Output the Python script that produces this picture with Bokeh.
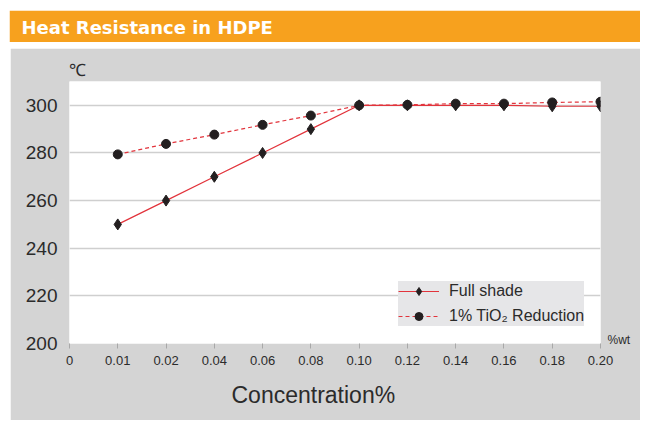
from bokeh.plotting import figure
from bokeh.layouts import column
from bokeh.models import (Range1d, FixedTicker, Legend, LegendItem, Title, LinearAxis)
from bokeh.embed import file_html
from bokeh.resources import INLINE

# ---- data ----
categories = ["0", "0.01", "0.02", "0.04", "0.06", "0.08", "0.10",
              "0.12", "0.14", "0.16", "0.18", "0.20"]
conc = ["0.01", "0.02", "0.04", "0.06", "0.08", "0.10",
        "0.12", "0.14", "0.16", "0.18", "0.20"]
full_shade = [250, 260, 270, 280, 290, 300, 300, 300, 300, 299.6, 299.6]
tio2_reduction = [279.4, 283.8, 287.7, 291.8, 295.7, 300, 300.2, 300.7, 300.7, 301.2, 301.5]
y_ticks = [200, 220, 240, 260, 280, 300]

title_text = "Heat Resistance in HDPE"
y_unit = "\u2103"
x_unit = "%wt"
x_title = "Concentration%"
series_names = ["Full shade", "1% TiO\u2082 Reduction"]

ORANGE = "#f7a11e"
PANEL = "#d4d4d4"
RED = "#e2343c"
MARK = "#231f20"
TXT = "#2b2b2b"

# ---- header bar ----
header = figure(width=631, height=32, x_range=Range1d(0, 1), y_range=Range1d(0, 1),
                output_backend="svg", toolbar_location=None, min_border=0,
                min_border_top=31, margin=(10, 0, 0, 9))
header.axis.visible = False
header.grid.visible = False
header.outline_line_color = None
header.background_fill_color = ORANGE
header.border_fill_color = ORANGE
header.title.text = title_text
header.title.align = "left"
header.title.offset = -47
header.title.standoff = 9
header.title.text_color = "white"
header.title.text_font = "DejaVu Sans"
header.title.text_font_style = "bold"
header.title.text_font_size = "18px"

# ---- main chart ----
x_pos = [categories.index(c) for c in conc]

p = figure(width=630, height=372, x_range=Range1d(0, len(categories) - 1),
           y_range=Range1d(200, 310), output_backend="svg", toolbar_location=None,
           min_border_left=59, min_border_right=40, min_border_top=33,
           min_border_bottom=77, margin=(6, 0, 0, 10))
p.background_fill_color = "white"
p.border_fill_color = PANEL
p.outline_line_color = None

p.xgrid.visible = False
p.ygrid.grid_line_color = "#cfcfcf"
p.ygrid.grid_line_width = 1.5
p.ygrid.ticker = FixedTicker(ticks=y_ticks)

p.xaxis.ticker = FixedTicker(ticks=list(range(len(categories))))
p.xaxis.major_label_overrides = {i: c for i, c in enumerate(categories)}
p.xaxis.axis_line_color = None
p.xaxis.major_tick_in = 0
p.xaxis.major_tick_out = 5
p.xaxis.major_tick_line_color = "#a8a8a8"
p.xaxis.minor_tick_line_color = None
p.xaxis.major_label_text_font = "Liberation Sans"
p.xaxis.major_label_text_font_size = "13px"
p.xaxis.major_label_text_color = TXT
p.xaxis.major_label_standoff = 7

p.yaxis.ticker = FixedTicker(ticks=y_ticks)
p.yaxis.axis_line_color = None
p.yaxis.major_tick_line_color = None
p.yaxis.minor_tick_line_color = None
p.yaxis.major_label_text_font = "Liberation Sans"
p.yaxis.major_label_text_font_size = "19px"
p.yaxis.major_label_text_color = TXT
p.yaxis.major_label_standoff = 6

# unit label "%wt" at the right end of the x axis
unit_axis = LinearAxis(ticker=FixedTicker(ticks=[201.5]),
                       major_label_overrides={201.5: x_unit})
unit_axis.axis_line_color = None
unit_axis.major_tick_line_color = None
unit_axis.minor_tick_line_color = None
unit_axis.major_label_standoff = 1
unit_axis.major_label_text_font = "Liberation Sans"
unit_axis.major_label_text_font_size = "12px"
unit_axis.major_label_text_color = TXT
p.add_layout(unit_axis, "right")

l1 = p.line(x_pos, full_shade, line_color=RED, line_width=1.2)
s1 = p.scatter(x_pos, full_shade, marker="diamond", size=11,
               fill_color=MARK, line_color=MARK)
l2 = p.line(x_pos, tio2_reduction, line_color=RED, line_width=1.2, line_dash="4 3")
s2 = p.scatter(x_pos, tio2_reduction, marker="circle", size=9, fill_color=MARK, line_color=MARK)

legend = Legend(items=[LegendItem(label=series_names[0], renderers=[l1, s1]),
                       LegendItem(label=series_names[1], renderers=[l2, s2])],
                location=(329, 17), orientation="vertical")
legend.background_fill_color = "#e6e6e8"
legend.background_fill_alpha = 1
legend.border_line_color = None
legend.label_text_font = "Liberation Sans"
legend.label_text_font_size = "16px"
legend.label_text_color = TXT
legend.glyph_width = 41
legend.glyph_height = 20
legend.label_height = 20
legend.label_standoff = 10
legend.padding = 5
legend.spacing = 5
legend.margin = 0
p.add_layout(legend, "center")

p.add_layout(Title(text=y_unit, align="left", offset=-1, standoff=3,
                   text_font="Liberation Sans", text_font_style="normal",
                   text_font_size="17px", text_color=TXT), "above")
p.add_layout(Title(text=x_title, align="left", offset=162, standoff=25,
                   text_font="Liberation Sans", text_font_style="normal",
                   text_font_size="23px", text_color=TXT), "below")

layout = column(header, p)
open("out.html", "w").write(file_html(layout, INLINE))
